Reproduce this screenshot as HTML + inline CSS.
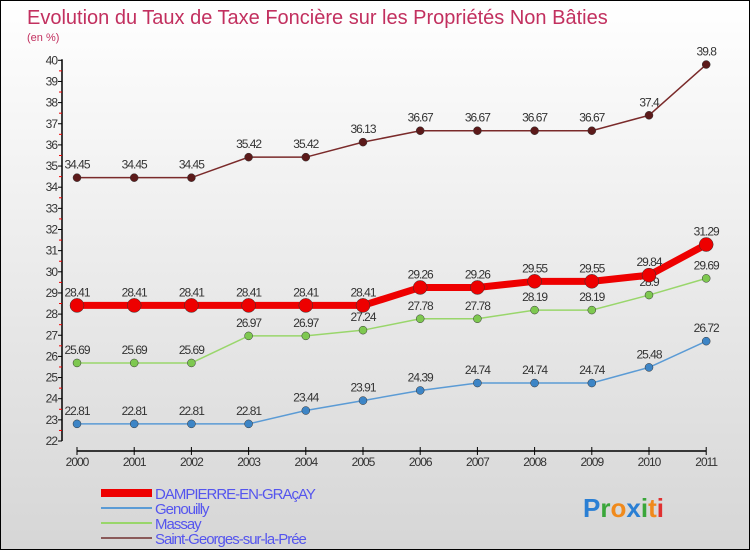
<!DOCTYPE html>
<html><head><meta charset="utf-8"><style>
body{margin:0}
#c{width:750px;height:550px;position:relative;overflow:hidden;box-sizing:border-box;border:1px solid #000;background:linear-gradient(#ffffff,#d6d6d6);font-family:"Liberation Sans",sans-serif}
svg{position:absolute;left:0;top:0}
</style></head><body>
<div id="c">
<svg id="s" width="750" height="550">
<text x="26" y="23" font-size="20" fill="#c2305f">Evolution du Taux de Taxe Foncière sur les Propriétés Non Bâties</text>
<text x="26" y="40" font-size="11" fill="#c2305f">(en %)</text>
</svg>
</div>
<script>
const years=[2000,2001,2002,2003,2004,2005,2006,2007,2008,2009,2010,2011];
const dampierre=[28.41,28.41,28.41,28.41,28.41,28.41,29.26,29.26,29.55,29.55,29.84,31.29];
const genouilly=[22.81,22.81,22.81,22.81,23.44,23.91,24.39,24.74,24.74,24.74,25.48,26.72];
const massay=[25.69,25.69,25.69,26.97,26.97,27.24,27.78,27.78,28.19,28.19,28.9,29.69];
const stgeorges=[34.45,34.45,34.45,35.42,35.42,36.13,36.67,36.67,36.67,36.67,37.4,39.8];
const yTicks=[22,23,24,25,26,27,28,29,30,31,32,33,34,35,36,37,38,39,40];
const ns="http://www.w3.org/2000/svg",s=document.getElementById('s');
const X=i=>76+i*57.2, Y=v=>440-(v-22)*21.15;
function el(t,a,p){const e=document.createElementNS(ns,t);for(const k in a)e.setAttribute(k,a[k]);(p||s).appendChild(e);return e;}
let ax=el('line',{x1:61,y1:Y(40)-1,x2:61,y2:Y(22),stroke:'#000','stroke-width':1.5});

yTicks.forEach(v=>{el('line',{x1:57,x2:61,y1:Y(v),y2:Y(v),stroke:'#000'});
 if(v<40)el('line',{x1:58,x2:61,y1:Y(v+0.5),y2:Y(v+0.5),stroke:'#e00'});
 const t=el('text',{x:56,y:Y(v)+4,'font-size':12,'text-anchor':'end',fill:'#333','letter-spacing':'-1'});t.textContent=v;
 });
let xa=el('line',{x1:X(0),x2:X(11),y1:450,y2:450,stroke:'#000','stroke-width':1.5});

years.forEach((y,i)=>{el('line',{x1:X(i),x2:X(i),y1:446,y2:454,stroke:'#000'});
 const t=el('text',{x:X(i),y:465,'font-size':12,'text-anchor':'middle',fill:'#333','letter-spacing':'-1'});t.textContent=y;
 });
const series=[[genouilly,'#5b9bd5','#3d85c6',1.5,4,'genouilly'],[massay,'#99d66b','#7ec850',1.5,4,'massay'],[stgeorges,'#7a2a2a','#5c1a1a',1.5,4,'saint-georges'],[dampierre,'#ee0000','#ee0000',7,7,'dampierre']];
series.forEach(([d,c,mc,w,r,n])=>{
 const p=el('polyline',{points:d.map((v,i)=>X(i)+','+Y(v)).join(' '),fill:'none',stroke:c,'stroke-width':w});
 
 d.forEach((v,i)=>{const m=el('circle',{cx:X(i),cy:Y(v),r:r,fill:mc,stroke:'#333','stroke-width':0.5});
  
  const t=el('text',{x:X(i),y:Y(v)-9,'font-size':12,'text-anchor':'middle',fill:'#333','letter-spacing':'-1'});t.textContent=v;
  });
});
const leg=[['DAMPIERRE-EN-GRAçAY','#ee0000',8],['Genouilly','#5b9bd5',2],['Massay','#99d66b',2],['Saint-Georges-sur-la-Prée','#8a5a5a',2]];
leg.forEach(([l,c,w],i)=>{const y=492+i*15;
 const ln=el('line',{x1:100,x2:151,y1:y,y2:y,stroke:c,'stroke-width':w});
 
 const t=el('text',{x:154,y:y+6,'font-size':15,fill:'#5555ee','letter-spacing':'-1'});t.textContent=l;
 });
const lg=el('text',{x:582,y:516,'font-size':26,'font-weight':'bold'});

[['P','#2a7fd4'],['r','#3aa63a'],['o','#f08a1c'],['x','#2a7fd4'],['i','#3aa63a'],['t','#f08a1c'],['i','#e03030']].forEach(([ch,c])=>{const ts=el('tspan',{fill:c},lg);ts.textContent=ch;});
</script>
</body></html>
